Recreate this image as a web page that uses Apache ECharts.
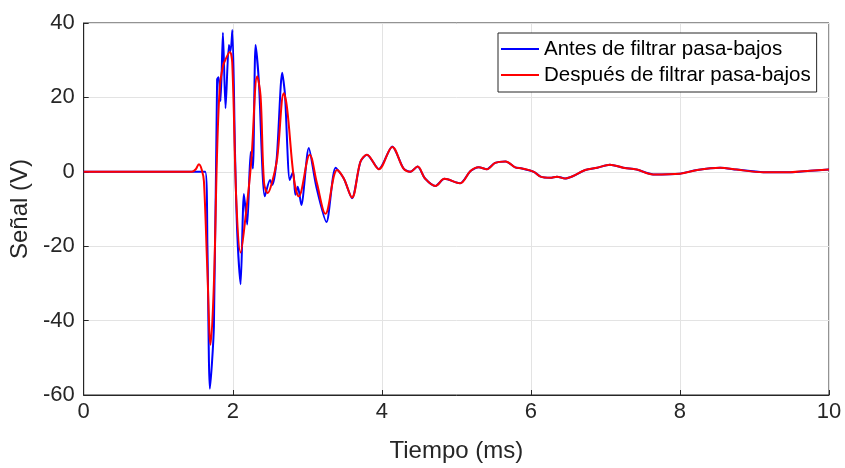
<!DOCTYPE html>
<html>
<head>
<meta charset="utf-8">
<script src="https://cdn.jsdelivr.net/npm/echarts@6/dist/echarts.min.js"></script>
<style>html,body{margin:0;padding:0;background:#fff}#c{width:845px;height:468px}</style>
</head>
<body>
<div id="c"></div>
<script>
// Data: [time (ms), signal (V)]
const antes = [
[0,0],[1.63,0],[1.66,-20],[1.693,-58.3],[1.747,-41.6],[1.79,24.8],[1.81,25.4],[1.836,19],[1.868,37.4],[1.903,17.1],
[1.948,34.1],[1.97,32.4],[1.995,38.1],[2.03,5.4],[2.06,-16.4],[2.105,-30.2],[2.15,-6],[2.194,-14.2],[2.24,5.3],[2.27,0.9],
[2.306,34.1],[2.35,24.4],[2.43,-6.6],[2.50,-2.2],[2.53,-3.5],[2.59,3.6],[2.663,26.6],[2.70,20.9],[2.765,-2.2],[2.81,0],
[2.84,-6.2],[2.873,-4.0],[2.92,-8.9],[3.02,6.4],[3.12,-3.9],[3.257,-13.5],[3.38,1.1],[3.49,-1.8],[3.6,-7.1],[3.713,2.7],
[3.80,4.6],[3.96,0.7],[4.14,6.8],[4.29,0.9],[4.38,0],[4.48,1.4],[4.58,-1.8],[4.72,-3.8],[4.84,-1.9],[5.05,-3.1],
[5.19,0.2],[5.30,1.2],[5.41,0.7],[5.52,2.4],[5.66,2.8],[5.79,1.2],[5.88,0.9],[6.04,0],[6.13,-1.3],[6.26,-1.6],
[6.35,-1.3],[6.46,-1.8],[6.56,-1.2],[6.73,0.5],[6.89,1.1],[7.06,1.9],[7.24,1.1],[7.42,0.6],[7.64,-0.7],[8.0,-0.5],
[8.23,0.5],[8.54,1.1],[8.76,0.6],[9.12,-0.1],[9.48,-0.1],[9.75,0.3],[10,0.6]
];
const despues = [
[0,0],[1.45,0],[1.5,0.6],[1.546,2.0],[1.585,0.5],[1.613,-2.5],[1.658,-25.7],[1.702,-46.5],[1.747,-30.1],[1.79,5.4],
[1.827,23],[1.87,28.5],[1.903,30.2],[1.961,32.2],[1.993,29.3],[2.05,-8.8],[2.105,-21.7],[2.17,-12.4],[2.248,2.7],[2.328,25.7],
[2.373,20.4],[2.42,-3],[2.47,-5.7],[2.53,-2.6],[2.596,3.6],[2.685,21.1],[2.73,16.9],[2.82,-1.8],[2.886,-6.6],[3.033,4.6],
[3.13,-3.1],[3.244,-11.3],[3.40,0.5],[3.49,-1.8],[3.6,-6.9],[3.713,2.7],[3.80,4.6],[3.96,0.7],[4.14,6.7],[4.29,0.9],
[4.38,0],[4.48,1.4],[4.58,-1.8],[4.72,-3.8],[4.84,-1.9],[5.05,-3.1],[5.19,0.2],[5.30,1.2],[5.41,0.7],[5.52,2.4],
[5.66,2.8],[5.79,1.2],[5.88,0.9],[6.04,0],[6.13,-1.3],[6.26,-1.6],[6.35,-1.3],[6.46,-1.8],[6.56,-1.2],[6.73,0.5],
[6.89,1.1],[7.06,1.9],[7.24,1.1],[7.42,0.6],[7.64,-0.7],[8.0,-0.5],[8.23,0.5],[8.54,1.1],[8.76,0.6],[9.12,-0.1],
[9.48,-0.1],[9.75,0.3],[10,0.6]
];
const seriesNames = ['Antes de filtrar pasa-bajos', 'Después de filtrar pasa-bajos'];
const xTitle = 'Tiempo (ms)';
const yTitle = 'Señal (V)';

const font = 'Liberation Sans, Arial, sans-serif';
const chart = echarts.init(document.getElementById('c'), null, {renderer: 'canvas'});
const axisCommon = {
  axisLine: {show: true, onZero: false, lineStyle: {color: '#262626', width: 1}},
  axisTick: {show: true, inside: true, length: 5, lineStyle: {color: '#262626'}},
  splitLine: {show: true, lineStyle: {color: '#e3e3e3', width: 1}},
  axisLabel: {color: '#262626', fontSize: 22, fontFamily: font}
};
chart.setOption({
  animation: false,
  backgroundColor: '#fff',
  grid: {left: 83, right: 16, top: 23, bottom: 69, show: true, borderColor: '#262626', borderWidth: 1},
  legend: {
    data: seriesNames,
    orient: 'vertical',
    left: 498, top: 33,
    icon: 'rect',
    itemWidth: 38, itemHeight: 2, itemGap: 4,
    padding: [5, 6, 6, 3],
    borderColor: '#262626', borderWidth: 1,
    backgroundColor: '#fff',
    textStyle: {color: '#000', fontSize: 20.5, lineHeight: 22, fontFamily: font}
  },
  xAxis: Object.assign({}, axisCommon, {
    type: 'value', min: 0, max: 10, interval: 2,
    name: xTitle, nameLocation: 'middle', nameGap: 44,
    nameTextStyle: {color: '#262626', fontSize: 24, fontFamily: font},
    axisLabel: Object.assign({}, axisCommon.axisLabel, {margin: 6})
  }),
  yAxis: Object.assign({}, axisCommon, {
    type: 'value', min: -60, max: 40, interval: 20,
    name: yTitle, nameLocation: 'middle', nameGap: 46,
    nameTextStyle: {color: '#262626', fontSize: 24, fontFamily: font},
    axisLabel: Object.assign({}, axisCommon.axisLabel, {margin: 9})
  }),
  series: [
    {name: seriesNames[0], type: 'line', data: antes, symbol: 'none', smooth: 0.25,
     lineStyle: {color: '#0000ff', width: 2}, itemStyle: {color: '#0000ff'}},
    {name: seriesNames[1], type: 'line', data: despues, symbol: 'none', smooth: 0.35,
     lineStyle: {color: '#ff0000', width: 2}, itemStyle: {color: '#ff0000'}}
  ]
});
</script>
</body>
</html>
